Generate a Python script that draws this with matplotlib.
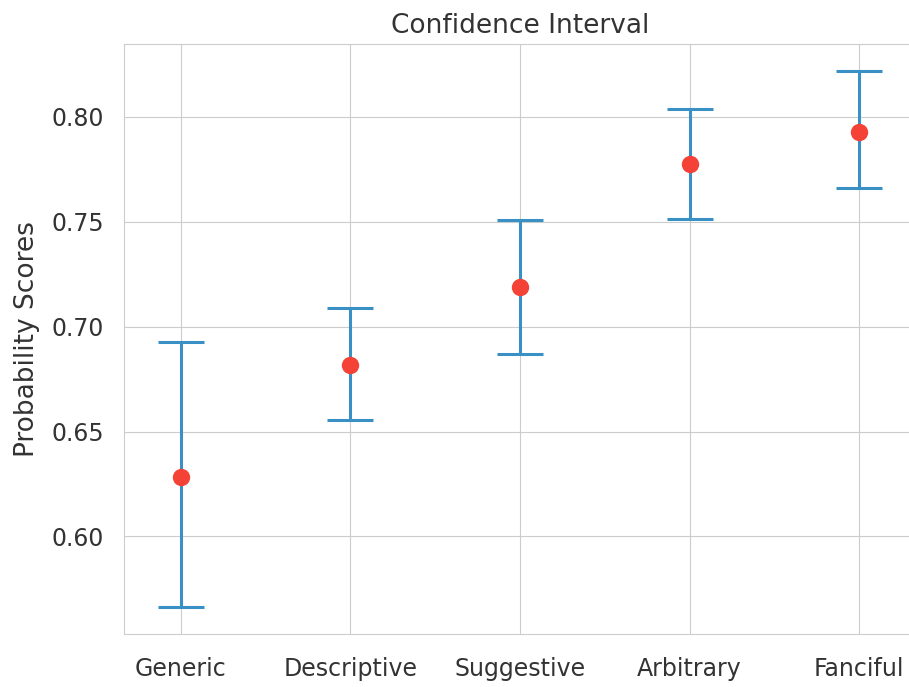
import matplotlib
matplotlib.use("Agg")
import matplotlib.pyplot as plt
import seaborn as sns

categories = ["Generic", "Descriptive", "Suggestive", "Arbitrary", "Fanciful"]
means = [0.6285, 0.6817, 0.7188, 0.7777, 0.7929]
lower = [0.5663, 0.6556, 0.6869, 0.7515, 0.7663]
upper = [0.6926, 0.7088, 0.7506, 0.8038, 0.8219]

sns.set_style("whitegrid")
plt.rcParams["font.family"] = ["DejaVu Sans"]

fig = plt.figure(figsize=(9.09, 6.87), dpi=100)
ax = fig.add_axes([0.1364, 0.0771, 0.8713, 0.8588])

x = list(range(len(categories)))
err_lo = [m - l for m, l in zip(means, lower)]
err_hi = [u - m for m, u in zip(means, upper)]

ax.errorbar(x, means, yerr=[err_lo, err_hi], fmt="none", ecolor="#3890c4",
            elinewidth=2.2, capsize=16.5, capthick=2.2)
ax.plot(x, means, "o", color="#f44336", markersize=11.5, zorder=3)

ax.set_xticks(x)
ax.set_xticklabels(categories)
ax.set_xlim(-0.336, 4.336)
ax.set_yticks([0.60, 0.65, 0.70, 0.75, 0.80])
ax.tick_params(labelsize=17, colors="#333333")
ax.tick_params(axis="x", pad=13)
ax.tick_params(axis="y", pad=11)
ax.set_ylabel("Probability Scores", fontsize=19, color="#333333", labelpad=8)
ax.set_title("Confidence Interval", fontsize=19, color="#333333", pad=8)

fig.savefig("out.png", dpi=100)
